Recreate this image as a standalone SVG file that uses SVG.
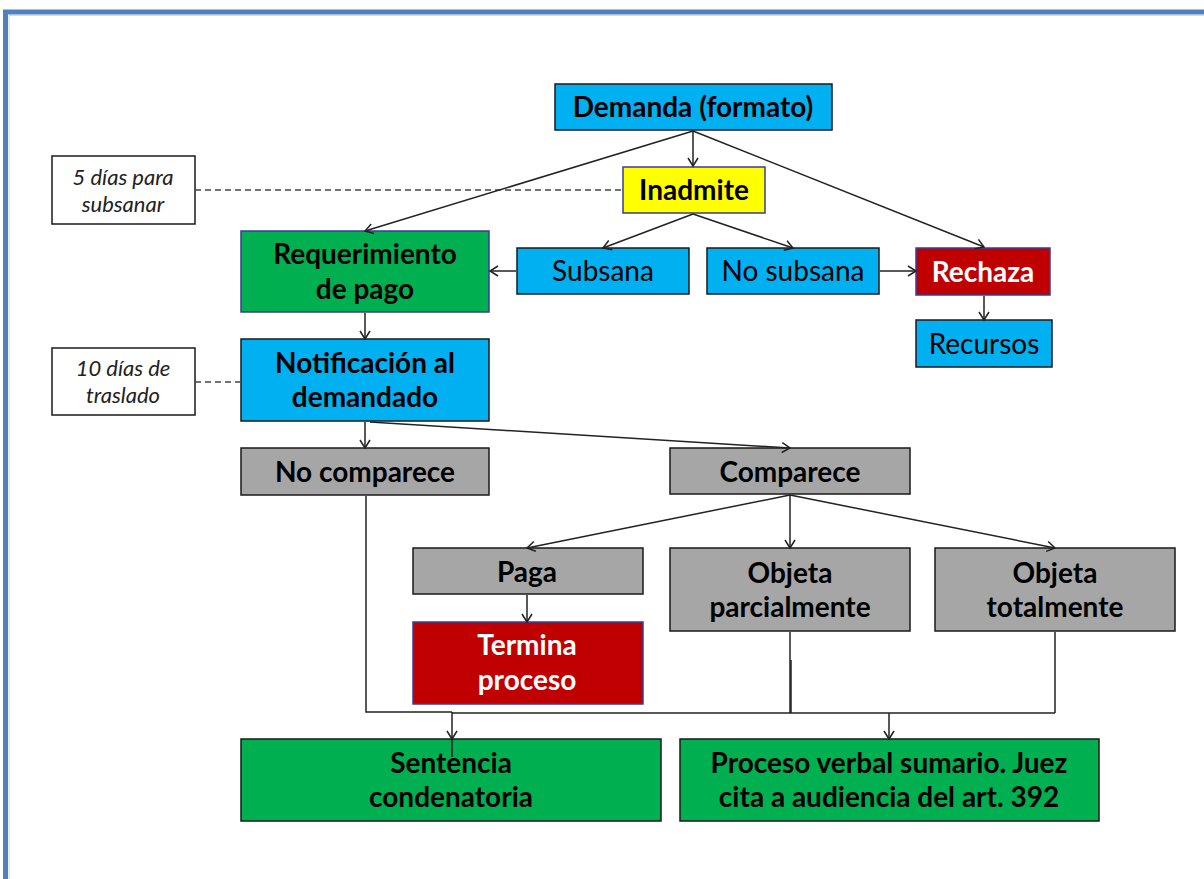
<svg xmlns="http://www.w3.org/2000/svg" width="1204" height="879" viewBox="0 0 1204 879">
<style>
.b{stroke:#1a1a1a;stroke-width:1.5}
.bp{stroke:#3b3b9a;stroke-width:1.5}
.cy{fill:#00B0F0}.ye{fill:#FFFF00}.gr{fill:#00B050}.rd{fill:#C00000}.gy{fill:#A6A6A6}.wh{fill:#ffffff}
text{font-family:Lato,"Open Sans","Liberation Sans",sans-serif;text-anchor:middle;font-size:28px;fill:#000}
.bd{font-weight:bold}
.w{fill:#fff}
.it{font-style:italic;font-size:22px;fill:#222}
.c{fill:none;stroke:#222;stroke-width:1.5}
.d{fill:none;stroke:#444;stroke-width:1.5;stroke-dasharray:6,4}
</style>
<defs>
<marker id="ar" markerUnits="userSpaceOnUse" markerWidth="14" markerHeight="14" refX="9" refY="6" orient="auto">
<path d="M1,1 L9,6 L1,11" fill="none" stroke="#222" stroke-width="1.5"/>
</marker>
</defs>
<rect x="0" y="0" width="1204" height="879" fill="#fff"/>
<path d="M5.5,879 V12 H1204" fill="none" stroke="#4F81BD" stroke-width="5"/>
<path d="M9,879 V15.5 H1204" fill="none" stroke="#d8d8d8" stroke-width="1"/>

<g id="note1"><rect class="b wh" x="52" y="156" width="143" height="68"/>
<text class="it" x="123" y="185">5 días para</text><text class="it" x="123" y="212">subsanar</text></g>
<g id="note2"><rect class="b wh" x="52" y="348" width="143" height="67"/>
<text class="it" x="123" y="376">10 días de</text><text class="it" x="123" y="403">traslado</text></g>

<g id="demanda"><rect class="b cy" x="555" y="84" width="277" height="46"/>
<text class="bd" x="693" y="117">Demanda (formato)</text></g>
<g id="inadmite"><rect class="bp ye" x="623" y="167" width="142" height="46"/>
<text class="bd" x="694" y="200">Inadmite</text></g>
<g id="subsana"><rect class="b cy" x="517" y="248" width="172" height="46"/>
<text x="603" y="281">Subsana</text></g>
<g id="nosubsana"><rect class="b cy" x="707" y="248" width="172" height="46"/>
<text x="793" y="281">No subsana</text></g>
<g id="rechaza"><rect class="bp rd" x="916" y="248" width="134" height="47"/>
<text class="bd w" x="983" y="282">Rechaza</text></g>
<g id="recursos"><rect class="b cy" x="916" y="320" width="136" height="47"/>
<text x="984" y="354">Recursos</text></g>
<g id="requerimiento"><rect class="bp gr" x="241" y="231" width="248" height="81"/>
<text class="bd" x="365" y="264">Requerimiento</text><text class="bd" x="365" y="299">de pago</text></g>
<g id="notificacion"><rect class="b cy" x="241" y="339" width="248" height="82"/>
<text class="bd" x="365" y="373">Notificación al</text><text class="bd" x="365" y="407">demandado</text></g>
<g id="nocomparece"><rect class="b gy" x="241" y="448" width="248" height="47"/>
<text class="bd" x="365" y="482">No comparece</text></g>
<g id="comparece"><rect class="b gy" x="670" y="448" width="240" height="46"/>
<text class="bd" x="790" y="482">Comparece</text></g>
<g id="paga"><rect class="b gy" x="413" y="548" width="230" height="46"/>
<text class="bd" x="527" y="582">Paga</text></g>
<g id="parcial"><rect class="b gy" x="670" y="548" width="240" height="83"/>
<text class="bd" x="790" y="583">Objeta</text><text class="bd" x="790" y="617">parcialmente</text></g>
<g id="total"><rect class="b gy" x="935" y="548" width="240" height="83"/>
<text class="bd" x="1055" y="583">Objeta</text><text class="bd" x="1055" y="617">totalmente</text></g>
<g id="termina"><rect class="bp rd" x="413" y="622" width="230" height="82"/>
<text class="bd w" x="527" y="655">Termina</text><text class="bd w" x="527" y="690">proceso</text></g>
<g id="sentencia"><rect class="b gr" x="241" y="739" width="420" height="82"/>
<text class="bd" x="451" y="773">Sentencia</text><text class="bd" x="451" y="807">condenatoria</text></g>
<g id="verbal"><rect class="b gr" x="680" y="739" width="419" height="82"/>
<text class="bd" x="889" y="773">Proceso verbal sumario. Juez</text><text class="bd" x="889" y="807">cita a audiencia del art. 392</text></g>

<g id="connectors">
<line class="d" x1="195" y1="190" x2="622" y2="190"/>
<line class="d" x1="195" y1="382" x2="240" y2="382"/>
<line class="c" x1="693" y1="131" x2="693" y2="166" marker-end="url(#ar)"/>
<line class="c" x1="693" y1="131" x2="365" y2="231" marker-end="url(#ar)"/>
<line class="c" x1="693" y1="131" x2="984" y2="247" marker-end="url(#ar)"/>
<line class="c" x1="693" y1="214" x2="603" y2="248" marker-end="url(#ar)"/>
<line class="c" x1="693" y1="214" x2="793" y2="248" marker-end="url(#ar)"/>
<line class="c" x1="516" y1="271" x2="490" y2="271" marker-end="url(#ar)"/>
<line class="c" x1="880" y1="271" x2="916" y2="271" marker-end="url(#ar)"/>
<line class="c" x1="984" y1="296" x2="984" y2="320" marker-end="url(#ar)"/>
<line class="c" x1="365" y1="313" x2="365" y2="339" marker-end="url(#ar)"/>
<line class="c" x1="365" y1="422" x2="365" y2="448" marker-end="url(#ar)"/>
<line class="c" x1="370" y1="422" x2="790" y2="448" marker-end="url(#ar)"/>
<line class="c" x1="790" y1="495" x2="527" y2="548" marker-end="url(#ar)"/>
<line class="c" x1="790" y1="495" x2="790" y2="548" marker-end="url(#ar)"/>
<line class="c" x1="790" y1="495" x2="1055" y2="548" marker-end="url(#ar)"/>
<line class="c" x1="527" y1="595" x2="527" y2="622" marker-end="url(#ar)"/>
<polyline class="c" points="366,496 366,712 452,712"/>
<line class="c" x1="452" y1="712" x2="452" y2="739" marker-end="url(#ar)"/>
<line class="c" x1="452" y1="739" x2="452" y2="757"/>
<line class="c" x1="452" y1="713" x2="1055" y2="713"/>
<line class="c" x1="790" y1="632" x2="790" y2="713"/>
<line class="c" x1="791" y1="660" x2="791" y2="713"/>
<line class="c" x1="1055" y1="632" x2="1055" y2="713"/>
<line class="c" x1="889" y1="713" x2="889" y2="739" marker-end="url(#ar)"/>
</g>
</svg>
